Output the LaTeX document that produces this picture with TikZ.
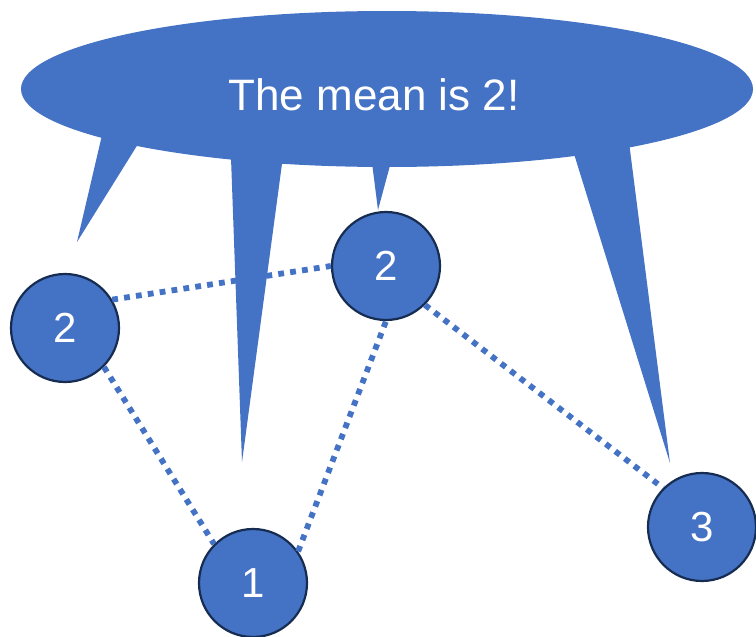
\documentclass[tikz,border=0pt]{standalone}
\usepackage{fontspec}
\setmainfont{Liberation Sans}
\usepackage{xcolor}
\definecolor{bubble}{HTML}{4472C4}
\definecolor{rim}{HTML}{172C51}

\begin{document}
\begin{tikzpicture}[x=1pt,y=-1pt,
    vertex/.style={circle,fill=bubble,draw=rim,line width=2.2pt,minimum size=108pt,
      inner sep=0pt,text=white,font=\fontsize{42}{42}\selectfont},
    link/.style={draw=bubble,line width=5.8pt,dash pattern=on 5.8pt off 6.2pt}]

  \useasboundingbox (0,0) rectangle (756,637);

  % speech bubble with its four tails
  \fill[bubble] (387,89) ellipse [x radius=366pt, y radius=78pt];
  \fill[bubble] (106,118) -- (77,242) -- (148,128) -- cycle;
  \fill[bubble] (230,130) -- (242,462) -- (286,134) -- cycle;
  \fill[bubble] (370,147) -- (378,210) -- (395,147) -- cycle;
  \fill[bubble] (561,112) -- (670,463) -- (624,103) -- cycle;
  \node[anchor=base,text=white,font=\fontsize{44}{44}\selectfont] (msg) at (374,110) {The mean is 2!};

  \node[vertex] (va) at (65,328) {2};
  \node[vertex] (vb) at (386,266) {2};
  \node[vertex] (vc) at (253,583) {1};
  \node[vertex] (vd) at (702,527) {3};

  \draw[link] (va.31) -- (vb.180);
  \draw[link] (va.-45) -- (vc.135);
  \draw[link] (vc.35) -- (vb.270);
  \draw[link] (vb.-45) -- (vd.135);
\end{tikzpicture}
\end{document}
